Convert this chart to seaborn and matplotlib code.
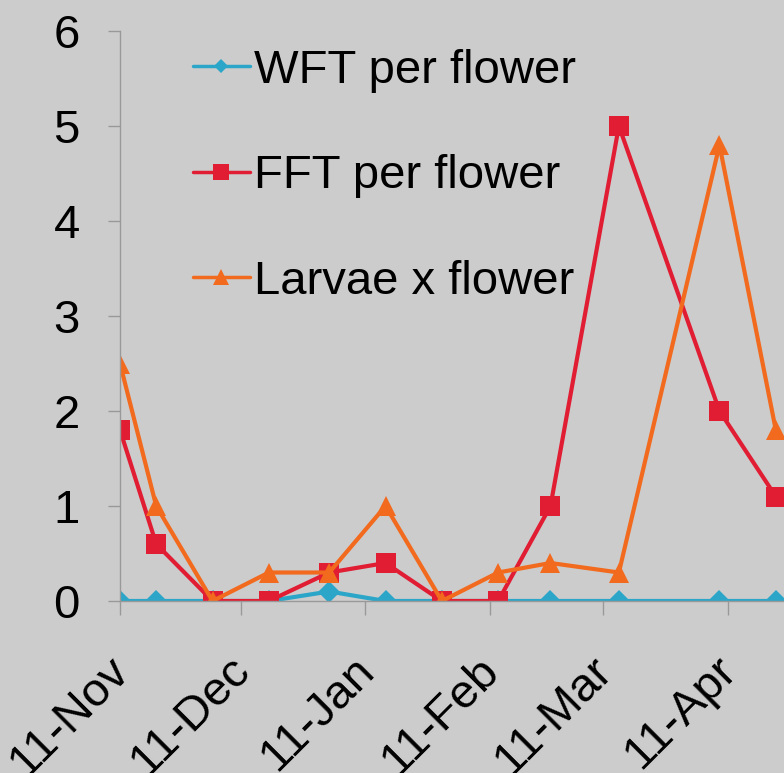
import matplotlib
matplotlib.use("Agg")
import matplotlib.pyplot as plt
import matplotlib.dates as mdates
import matplotlib.transforms as mtransforms
import seaborn as sns
import pandas as pd

dates = ["2010-11-11", "2010-11-20", "2010-12-04", "2010-12-18", "2011-01-02",
         "2011-01-16", "2011-01-30", "2011-02-13", "2011-02-26", "2011-03-15",
         "2011-04-09", "2011-04-23"]
wft = [0, 0, 0, 0, 0.1, 0, 0, 0, 0, 0, 0, 0]
fft = [1.8, 0.6, 0, 0, 0.3, 0.4, 0, 0, 1.0, 5.0, 2.0, 1.1]
larvae = [2.5, 1.0, 0, 0.3, 0.3, 1.0, 0, 0.3, 0.4, 0.3, 4.8, 1.8]
series_names = ["WFT per flower", "FFT per flower", "Larvae x flower"]
y_ticks = [0, 1, 2, 3, 4, 5, 6]

sns.set_theme(style="white")
plt.rcParams["font.family"] = ["Liberation Sans", "DejaVu Sans"]
plt.rcParams["text.color"] = "black"

bg = "#cccccc"
fig = plt.figure(figsize=(7.84, 7.73), dpi=100, facecolor=bg)
ax = fig.add_axes([120 / 784, 172 / 773, 690 / 784, 570 / 773])
ax.set_facecolor(bg)

df = pd.DataFrame({"date": pd.to_datetime(dates), "wft": wft, "fft": fft, "larvae": larvae})

styles = [
    ("wft", "#2ba6c8", "D", 11, 7),
    ("fft", "#e11d33", "s", 15, 11),
    ("larvae", "#f26a1e", "^", 15, 11),
]
for (col, color, mk, ms, _), name in zip(styles, series_names):
    sns.lineplot(data=df, x="date", y=col, ax=ax, color=color, marker=mk,
                 markersize=ms, markeredgewidth=0, linewidth=3, label=name)

ax.set_ylim(0, 6)
ax.set_yticks(y_ticks)
ax.set_xlim(pd.Timestamp("2010-11-11"), pd.Timestamp("2010-11-11") + pd.Timedelta(days=171.5))
ax.xaxis.set_major_locator(mdates.MonthLocator(bymonthday=11))
ax.xaxis.set_major_formatter(mdates.DateFormatter("%d-%b"))
ax.set_xlabel("")
ax.set_ylabel("")

for s in ["top", "right"]:
    ax.spines[s].set_visible(False)
for s in ["left", "bottom"]:
    ax.spines[s].set_color("#999999")
    ax.spines[s].set_linewidth(1)

ax.tick_params(axis="y", direction="out", length=9, width=1, color="#999999",
               labelsize=34, pad=20, labelcolor="black", left=True)
ax.tick_params(axis="x", direction="out", length=10, width=1, color="#999999",
               labelsize=34, pad=24, labelcolor="black", bottom=True)

offset = mtransforms.ScaledTranslation(18 / 100, 0, fig.dpi_scale_trans)
for lab in ax.get_xticklabels():
    lab.set_rotation(45)
    lab.set_ha("right")
    lab.set_transform(lab.get_transform() + offset)

leg = ax.legend(loc="upper left", bbox_to_anchor=(193 / 784, 1 - 49 / 773),
                bbox_transform=fig.transFigure, frameon=False, fontsize=34,
                handlelength=1.2, handletextpad=0.1, labelspacing=1.3,
                borderpad=0, borderaxespad=0)
for txt in leg.get_texts():
    txt.set_color("black")
for h, (_, _, _, _, lms) in zip(leg.legend_handles, styles):
    h.set_linewidth(2.5)
    h.set_markersize(lms)

fig.savefig("out.png", dpi=100, facecolor=bg)
